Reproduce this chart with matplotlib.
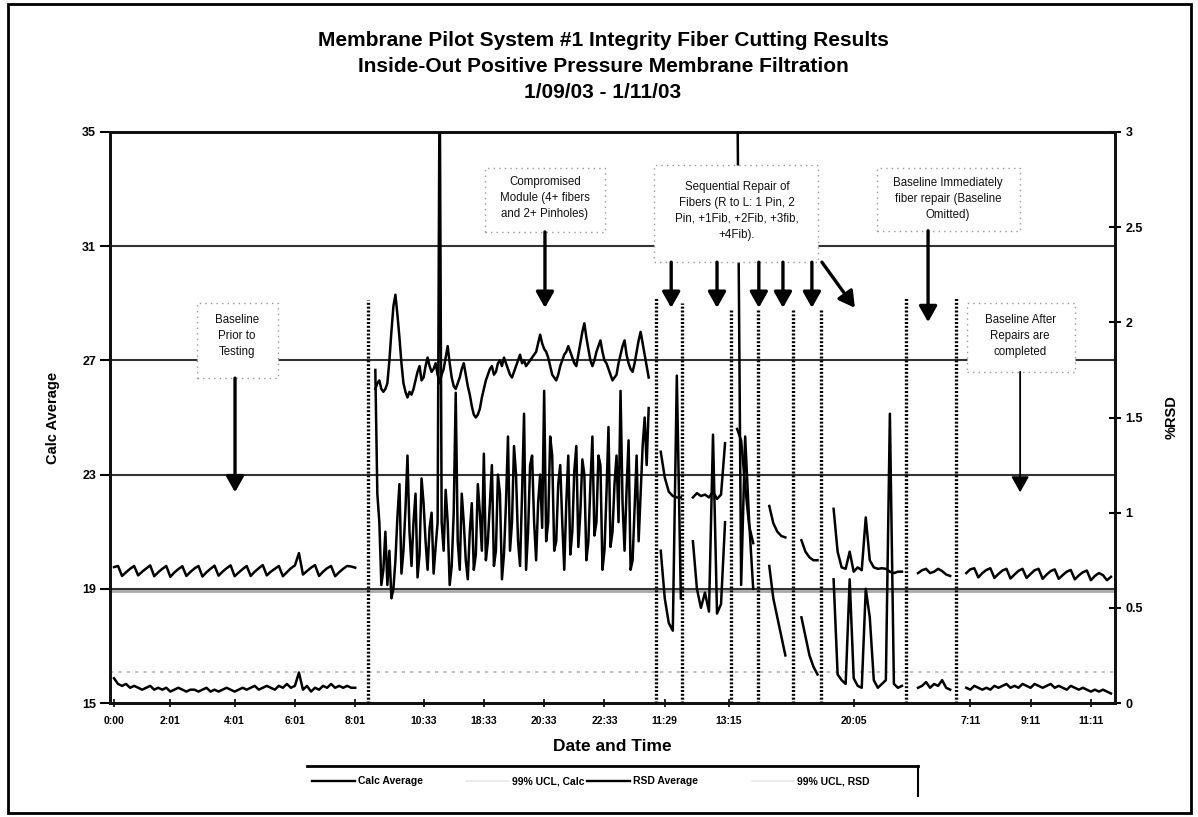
import numpy as np
import matplotlib
matplotlib.use('Agg')
import matplotlib.pyplot as plt
from matplotlib.patches import Rectangle
from matplotlib.lines import Line2D

plt.rcParams['font.family'] = ['Liberation Sans', 'DejaVu Sans']

# ------------------------------------------------------------------ data
n_samples = 251
tick_pos = [1, 15, 31, 46, 61, 78, 93, 108, 123, 138, 154, 185, 214, 229, 244]
tick_labels = ['0:00', '2:01', '4:01', '6:01', '8:01', '10:33', '18:33', '20:33',
               '22:33', '11:29', '13:15', '20:05', '7:11', '9:11', '11:11']

# baseline prior to testing (one sample per index step)
pre_start = 1
calc_pre = [19.76, 19.80, 19.45, 19.58, 19.70, 19.80,
            19.47, 19.60, 19.71, 19.82, 19.44,
            19.58, 19.70, 19.80, 19.42, 19.57,
            19.69, 19.79, 19.45, 19.59, 19.71,
            19.80, 19.43, 19.58, 19.70, 19.81,
            19.46, 19.60, 19.72, 19.82, 19.44,
            19.57, 19.69, 19.80, 19.45, 19.60,
            19.72, 19.83, 19.47, 19.60, 19.70,
            19.80, 19.44, 19.58, 19.72, 19.82,
            20.25, 19.50, 19.62, 19.74, 19.83,
            19.45, 19.60, 19.72, 19.80, 19.44,
            19.58, 19.70, 19.80, 19.78, 19.74]
rsd_pre = [0.13, 0.10, 0.09, 0.10, 0.08, 0.09, 0.08, 0.07, 0.08, 0.09,
           0.07, 0.08, 0.07, 0.08, 0.06, 0.07, 0.08, 0.07, 0.06, 0.07,
           0.07, 0.06, 0.07, 0.08, 0.06, 0.07, 0.06, 0.07, 0.08, 0.07,
           0.06, 0.07, 0.08, 0.07, 0.08, 0.09, 0.07, 0.08, 0.09, 0.08,
           0.07, 0.09, 0.08, 0.10, 0.08, 0.09, 0.16, 0.07, 0.09, 0.06,
           0.08, 0.07, 0.09, 0.08, 0.10, 0.08, 0.09, 0.08, 0.09, 0.08, 0.08]

# compromised module (two samples per index step)
comp_start = 66
calc_comp = [26.0, 26.2, 26.3, 26.0, 25.9, 26.0, 26.2, 27.0, 28.0, 28.9,
             29.3, 28.6, 27.8, 26.9, 26.2, 25.9, 25.7, 25.9, 25.8, 26.0,
             26.3, 26.6, 26.8, 26.3, 26.4, 26.8, 27.1, 26.8, 26.6, 26.7,
             26.9, 26.5, 26.2, 26.5, 26.7, 27.1, 27.5, 26.9, 26.4, 26.1,
             26.0, 26.2, 26.4, 26.7, 26.9, 26.5, 26.1, 25.8, 25.4, 25.1,
             25.0, 25.1, 25.3, 25.7, 26.0, 26.3, 26.5, 26.7, 26.8, 26.5,
             26.6, 26.9, 27.0, 26.8, 27.1, 26.9, 26.7, 26.5, 26.4, 26.6,
             26.8, 27.0, 27.2, 26.9, 27.0, 26.8, 26.9, 27.0, 27.1, 27.2,
             27.3, 27.6, 27.9, 27.6, 27.4, 27.3, 27.1, 26.8, 26.5, 26.4,
             26.3, 26.5, 26.8, 27.0, 27.2, 27.3, 27.5, 27.3, 27.1, 26.9,
             26.8, 27.2, 27.6, 28.0, 28.3, 27.8, 27.4, 27.0, 26.8, 27.0,
             27.3, 27.5, 27.7, 27.3, 27.0, 26.9, 26.7, 26.5, 26.3, 26.4,
             26.5, 26.9, 27.2, 27.5, 27.7, 27.2, 26.9, 26.7, 26.6, 26.9,
             27.3, 27.7, 28.0, 27.6, 27.2, 26.8, 26.4]
rsd_comp = [1.75, 1.10, 0.95, 0.62, 0.70, 0.90, 0.62, 0.80, 0.55, 0.60,
            0.75, 0.98, 1.15, 0.68, 0.80, 1.02, 1.30, 0.90, 0.72, 0.95,
            1.10, 0.66, 0.78, 1.18, 1.05, 0.85, 0.70, 0.92, 1.00, 0.68,
            0.82, 0.95, 3.40, 0.95, 0.80, 1.12, 0.95, 0.62, 0.72, 1.00,
            1.63, 0.85, 0.70, 1.10, 0.95, 0.75, 0.65, 0.90, 1.05, 0.70,
            0.78, 1.15, 1.00, 0.80, 1.31, 0.75, 0.85, 1.05, 1.25, 0.72,
            0.80, 1.20, 1.10, 0.65, 0.78, 1.05, 1.40, 0.80, 0.95, 1.35,
            1.20, 0.85, 0.72, 1.10, 1.52, 0.70, 0.90, 1.25, 1.30, 0.95,
            0.75, 1.05, 1.20, 0.92, 1.64, 0.85, 0.95, 1.40, 1.30, 0.80,
            0.85, 1.15, 1.25, 0.95, 0.70, 1.05, 1.30, 0.78, 0.90, 1.22,
            1.35, 0.82, 1.00, 1.28, 1.20, 0.75, 0.85, 1.15, 1.40, 0.88,
            0.95, 1.30, 1.25, 0.70, 0.80, 1.10, 1.45, 0.82, 0.90, 1.15,
            1.30, 0.95, 1.64, 1.05, 0.80, 1.12, 1.38, 0.70, 0.75, 1.02,
            1.30, 0.85, 1.10, 1.35, 1.50, 1.25, 1.55]

# sequential repairs
rep1_start = 137
calc_rep1 = [23.8, 22.9, 22.4, 22.25, 22.2, 22.2]
rsd_rep1 = [0.80, 0.55, 0.42, 0.38, 1.72, 0.55]

rep2_start = 145
calc_rep2 = [22.2, 22.35, 22.25, 22.3, 22.2, 22.4, 22.15, 22.3, 24.1]
rsd_rep2 = [0.85, 0.60, 0.50, 0.58, 0.48, 1.41, 0.47, 0.52, 0.95]

rep3_start = 156
calc_rep3 = [24.6, 24.2, 22.6, 21.2, 20.6]
rsd_rep3 = [3.40, 0.62, 1.40, 0.95, 0.60]

rep4_start = 164
calc_rep4 = [21.9, 21.3, 21.0, 20.85, 20.8]
rsd_rep4 = [0.72, 0.55, 0.45, 0.35, 0.25]

rep5_start = 172
calc_rep5 = [20.7, 20.3, 20.1, 20.0, 20.0]
rsd_rep5 = [0.45, 0.35, 0.25, 0.19, 0.15]

rep6_start = 180
calc_rep6 = [21.8, 20.3, 19.75, 19.7, 20.3, 19.6, 19.75, 19.65, 21.5,
             20.0, 19.75, 19.7, 19.72, 19.7, 19.6, 19.55, 19.6, 19.6]
rsd_rep6 = [0.65, 0.15, 0.12, 0.10, 0.65, 0.13, 0.09, 0.08, 0.60,
            0.45, 0.12, 0.08, 0.10, 0.12, 1.52, 0.10, 0.08, 0.09]

# baseline immediately after repair
imm_start = 201
calc_imm = [19.55, 19.65, 19.70, 19.55, 19.60, 19.70, 19.62, 19.50, 19.45]
rsd_imm = [0.08, 0.09, 0.11, 0.08, 0.10, 0.09, 0.12, 0.08, 0.07]

# baseline after repairs completed
post_start = 213
calc_post = [19.55, 19.68, 19.72, 19.40, 19.55, 19.66, 19.72, 19.38, 19.52, 19.64,
             19.70, 19.36, 19.50, 19.63, 19.70, 19.38, 19.52, 19.65, 19.70, 19.35,
             19.50, 19.62, 19.68, 19.35, 19.48, 19.60, 19.66, 19.33, 19.47, 19.58,
             19.64, 19.30, 19.45, 19.55, 19.48, 19.30, 19.42]
rsd_post = [0.08, 0.07, 0.09, 0.08, 0.07, 0.08, 0.07, 0.09, 0.08, 0.09,
            0.10, 0.08, 0.09, 0.08, 0.10, 0.09, 0.08, 0.10, 0.09, 0.08,
            0.09, 0.10, 0.08, 0.09, 0.08, 0.07, 0.09, 0.08, 0.07, 0.08,
            0.07, 0.06, 0.07, 0.06, 0.07, 0.06, 0.05]

ucl_calc = 18.92
ucl_rsd = 0.165

event_lines = [64.2, 135.8, 142.3, 154.5, 161.2, 169.9, 176.9, 198.0, 210.4]
event_tops = [0.706, 0.711, 0.700, 0.688, 0.688, 0.688, 0.688, 0.711, 0.711]

# ------------------------------------------------------------------ build series
segments = [(pre_start, 1.0, calc_pre, rsd_pre), (comp_start, 0.5, calc_comp, rsd_comp),
            (rep1_start, 1.0, calc_rep1, rsd_rep1), (rep2_start, 1.0, calc_rep2, rsd_rep2),
            (rep3_start, 1.0, calc_rep3, rsd_rep3), (rep4_start, 1.0, calc_rep4, rsd_rep4),
            (rep5_start, 1.0, calc_rep5, rsd_rep5), (rep6_start, 1.0, calc_rep6, rsd_rep6),
            (imm_start, 1.0, calc_imm, rsd_imm), (post_start, 1.0, calc_post, rsd_post)]
cx, cy, rx, ry = [], [], [], []
for s, step, c, r in segments:
    cx += list(s + step * np.arange(len(c))) + [np.nan]
    cy += list(c) + [np.nan]
    rx += list(s + step * np.arange(len(r))) + [np.nan]
    ry += list(r) + [np.nan]

# ------------------------------------------------------------------ figure
W, H = 1198, 817
fig = plt.figure(figsize=(W / 100, H / 100), dpi=100)
fig.patch.set_facecolor('white')


def fx(p):
    return p / W


def fy(p):
    return 1 - p / H


ax = fig.add_axes([fx(110), fy(703), fx(1115) - fx(110), fy(132) - fy(703)])
ax2 = ax.twinx()

ax.set_xlim(0, 250)
ax.set_ylim(15, 35)
ax2.set_ylim(0, 3)

for g in [19, 23, 27, 31]:
    ax.axhline(g, color='#333333', lw=1.5, zorder=1)
ax.axhline(ucl_calc, color='#a8a8a8', lw=2.0, zorder=1)
ax.plot(cx, cy, color='black', lw=1.8, zorder=3)

ax2.axhline(ucl_rsd, color='#b5b5b5', lw=1.2, ls=(0, (2, 3)), zorder=1)
ax2.plot(rx, ry, color='black', lw=1.8, zorder=3)

for xv, top in zip(event_lines, event_tops):
    ax2.axvline(xv, ymin=0, ymax=top, color='black', lw=2.4, ls=(0, (0.6, 0.55)), zorder=4)

# ticks / spines
ax.set_xticks(tick_pos)
ax.set_xticklabels(tick_labels, fontsize=7.5, fontweight='bold')
ax.set_yticks([15, 19, 23, 27, 31, 35])
ax.set_yticklabels(['15', '19', '23', '27', '31', '35'], fontsize=9, fontweight='bold')
ax2.set_yticks([0, 0.5, 1, 1.5, 2, 2.5, 3])
ax2.set_yticklabels(['0', '0.5', '1', '1.5', '2', '2.5', '3'], fontsize=9, fontweight='bold')
ax.tick_params(axis='y', direction='out', length=7, width=1.5, pad=3)
ax.tick_params(axis='x', direction='inout', length=6, width=1.2, pad=6)
ax2.tick_params(axis='y', direction='inout', length=9, width=1.5, pad=3)
for a in (ax, ax2):
    for sp in a.spines.values():
        sp.set_linewidth(2)
        sp.set_color('#111111')

ax.set_ylabel('Calc Average', fontsize=10.5, fontweight='bold')
ax.yaxis.set_label_coords(-50 / 1005, 0.5)
ax2.set_ylabel('%RSD', fontsize=10.5, fontweight='bold')
ax2.yaxis.set_label_coords(1 + 50 / 1005, 0.5)
ax.set_xlabel('Date and Time', fontsize=12.5, fontweight='bold')
ax.xaxis.set_label_coords(0.5, -36 / 571)

# ------------------------------------------------------------------ annotations
tr = ax2.get_xaxis_transform()
boxes = [
    (21.6, 41.8, 0.5690, 0.7005, 31.6, 0.643, 'Baseline\nPrior to\nTesting'),
    (93.3, 123.1, 0.825, 0.937, 108.2, 0.884, 'Compromised\nModule (4+ fibers\nand 2+ Pinholes)'),
    (135.3, 176.1, 0.772, 0.942, 156.0, 0.862,
     'Sequential Repair of\nFibers (R to L: 1 Pin, 2\nPin, +1Fib, +2Fib, +3fib,\n+4Fib).'),
    (190.8, 226.4, 0.827, 0.937, 208.5, 0.882, 'Baseline Immediately\nfiber repair (Baseline\nOmitted)'),
    (213.2, 240.0, 0.580, 0.700, 226.4, 0.643, 'Baseline After\nRepairs are\ncompleted'),
]
for x0, x1, y0, y1, tx, ty, txt in boxes:
    ax2.add_patch(Rectangle((x0, y0), x1 - x0, y1 - y0, transform=tr, facecolor='white',
                            edgecolor='#9a9a9a', lw=1.0, ls=(0, (1, 3)), zorder=6,
                            clip_on=False))
    ax2.text(tx, ty, txt, transform=tr, ha='center', va='center', fontsize=8.3,
             linespacing=1.45, zorder=7, color='#111111')

arrows = [
    (31.1, 0.569, 31.1, 0.369, 2.4),
    (108.2, 0.825, 108.2, 0.692, 2.4),
    (139.6, 0.772, 139.6, 0.692, 2.4),
    (151.0, 0.772, 151.0, 0.692, 2.4),
    (161.4, 0.772, 161.4, 0.692, 2.4),
    (167.4, 0.772, 167.4, 0.692, 2.4),
    (174.6, 0.772, 174.6, 0.692, 2.4),
    (177.1, 0.772, 185.3, 0.692, 2.4),
    (203.5, 0.827, 203.5, 0.667, 2.4),
    (226.4, 0.580, 226.4, 0.369, 1.3),
]
for xs, ys, xt, yt, lw in arrows:
    ax2.annotate('', xy=(xt, yt), xytext=(xs, ys), xycoords=tr, textcoords=tr,
                 arrowprops=dict(arrowstyle='-|>,head_length=0.8,head_width=0.45',
                                 color='black', lw=lw, shrinkA=0, shrinkB=0,
                                 mutation_scale=12),
                 zorder=7)

# ------------------------------------------------------------------ titles
title_lines = ['Membrane Pilot System #1 Integrity Fiber Cutting Results',
               'Inside-Out Positive Pressure Membrane Filtration',
               '1/09/03 - 1/11/03']
for line, py in zip(title_lines, [41, 67, 92]):
    fig.text(fx(603), fy(py), line, ha='center', va='center', fontsize=15, fontweight='bold')

# ------------------------------------------------------------------ legend
leg_y = 781
fig.add_artist(Line2D([fx(312), fx(355)], [fy(leg_y), fy(leg_y)], color='black', lw=1.7))
fig.add_artist(Line2D([fx(466), fx(508)], [fy(leg_y), fy(leg_y)], color='#e6e6e6', lw=1.2))
fig.add_artist(Line2D([fx(587), fx(630)], [fy(leg_y), fy(leg_y)], color='black', lw=1.7))
fig.add_artist(Line2D([fx(752), fx(794)], [fy(leg_y), fy(leg_y)], color='#e6e6e6', lw=1.2))
for tx, t in [(358, 'Calc Average'), (512, '99% UCL, Calc'), (633, 'RSD Average'), (797, '99% UCL, RSD')]:
    fig.text(fx(tx), fy(leg_y), t, ha='left', va='center', fontsize=7.5, fontweight='bold')
fig.add_artist(Line2D([fx(307), fx(918)], [fy(766), fy(766)], color='black', lw=2))
fig.add_artist(Line2D([fx(918), fx(918)], [fy(766), fy(796)], color='black', lw=1.5))

# outer frame
fig.add_artist(Rectangle((fx(8), fy(813)), fx(1191) - fx(8), fy(4) - fy(813),
                         transform=fig.transFigure, fill=False, edgecolor='black', lw=2))

fig.savefig('out.png', dpi=100, facecolor='white')
